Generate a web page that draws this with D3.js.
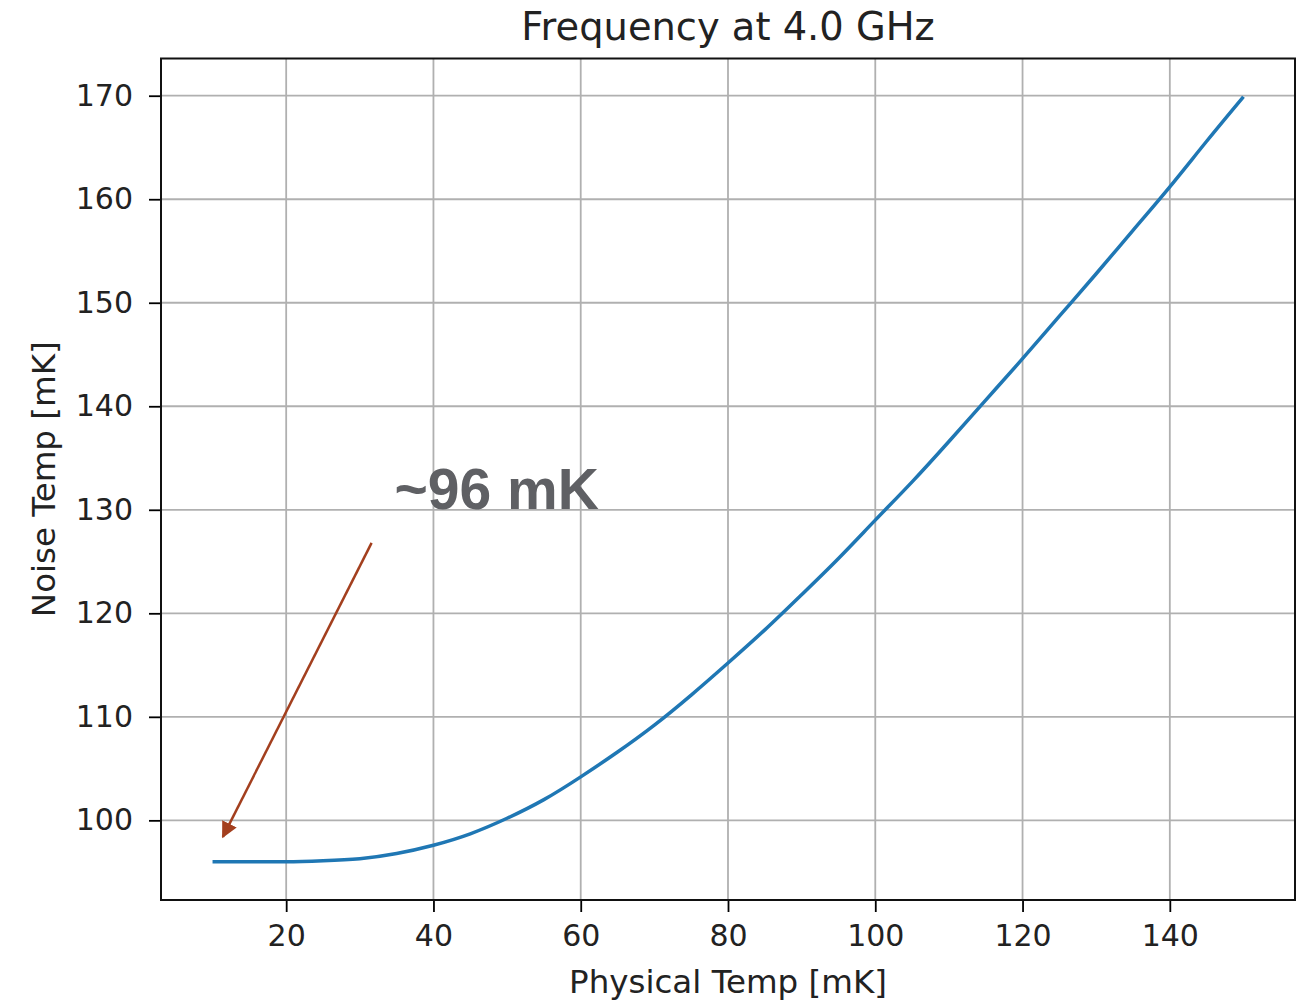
<!DOCTYPE html>
<html>
<head>
<meta charset="utf-8">
<script src="https://cdn.jsdelivr.net/npm/d3@7"></script>
<style>
  body { margin: 0; background: #fff; }
  svg { display: block; }
</style>
</head>
<body>
<svg id="chart" width="1307" height="1001"></svg>
<script>
// データ
const physicalTemp = [10, 15, 20, 25, 30, 35, 40, 45, 50, 55, 60, 65, 70, 75, 80,
  85, 90, 95, 100, 105, 110, 115, 120, 125, 130, 135, 140, 145, 150];
const noiseTemp = [96.0, 96.0, 96.0, 96.1, 96.3, 96.8, 97.6, 98.7, 100.2, 102.0, 104.2, 106.6, 109.2, 112.1, 115.2,
  118.4, 121.8, 125.3, 129.0, 132.7, 136.6, 140.6, 144.6, 148.7, 152.8, 157.0, 161.2, 165.6, 169.9];
const xTicks = [20, 40, 60, 80, 100, 120, 140];
const yTicks = [100, 110, 120, 130, 140, 150, 160, 170];

const titleText = 'Frequency at 4.0 GHz';
const xLabelText = 'Physical Temp [mK]';
const yLabelText = 'Noise Temp [mK]';

// 注釈（データ座標）
const noteText = '~96 mK';
const notePos = [34.7, 130.1];
const arrowFrom = [31.6, 126.8];
const arrowTo = [11.4, 98.4];

const svg = d3.select('#chart');
const plot = { left: 161, right: 1295, top: 58.5, bottom: 900 };

// matplotlib風 5% マージン
function padded(values) {
    const [lo, hi] = d3.extent(values);
    const m = (hi - lo) * 0.05;
    return [lo - m, hi + m];
}

const xScale = d3.scaleLinear().domain(padded(physicalTemp)).range([plot.left, plot.right]);
const yScale = d3.scaleLinear().domain(padded(noiseTemp)).range([plot.bottom, plot.top]);

const font = "'DejaVu Sans', sans-serif";

// グリッド
svg.append('g')
    .attr('class', 'grid')
    .selectAll('line.vx')
    .data(xTicks)
    .enter().append('line')
    .attr('x1', d => xScale(d)).attr('x2', d => xScale(d))
    .attr('y1', plot.top).attr('y2', plot.bottom)
    .attr('stroke', '#b0b0b0').attr('stroke-width', 1.8);

svg.append('g')
    .attr('class', 'grid')
    .selectAll('line.hy')
    .data(yTicks)
    .enter().append('line')
    .attr('x1', plot.left).attr('x2', plot.right)
    .attr('y1', d => yScale(d)).attr('y2', d => yScale(d))
    .attr('stroke', '#b0b0b0').attr('stroke-width', 1.8);

// 曲線
const line = d3.line()
    .x((d, i) => xScale(physicalTemp[i]))
    .y(d => yScale(d))
    .curve(d3.curveNatural);

svg.append('path')
    .datum(noiseTemp)
    .attr('fill', 'none')
    .attr('stroke', '#1f77b4')
    .attr('stroke-width', 3.5)
    .attr('d', line);

// 軸
const xAxis = d3.axisBottom(xScale).tickValues(xTicks).tickSize(12).tickPadding(13);
const yAxis = d3.axisLeft(yScale).tickValues(yTicks).tickSize(12).tickPadding(16);

const gx = svg.append('g')
    .attr('transform', `translate(0, ${plot.bottom})`)
    .call(xAxis);
const gy = svg.append('g')
    .attr('transform', `translate(${plot.left}, 0)`)
    .call(yAxis);

[gx, gy].forEach(g => {
    g.select('.domain').remove();
    g.selectAll('.tick line').attr('stroke', '#000').attr('stroke-width', 1.8);
    g.selectAll('.tick text')
        .attr('fill', '#222')
        .style('font-family', font)
        .style('font-size', '30px');
});

// 枠
svg.append('rect')
    .attr('x', plot.left).attr('y', plot.top)
    .attr('width', plot.right - plot.left)
    .attr('height', plot.bottom - plot.top)
    .attr('fill', 'none')
    .attr('stroke', '#111')
    .attr('stroke-width', 2);

// タイトル・軸ラベル
svg.append('text')
    .attr('x', (plot.left + plot.right) / 2)
    .attr('y', 40)
    .attr('text-anchor', 'middle')
    .style('font-family', font)
    .style('font-size', '38.4px')
    .attr('fill', '#222')
    .text(titleText);

svg.append('text')
    .attr('x', (plot.left + plot.right) / 2)
    .attr('y', 993)
    .attr('text-anchor', 'middle')
    .style('font-family', font)
    .style('font-size', '32.5px')
    .attr('fill', '#222')
    .text(xLabelText);

svg.append('text')
    .attr('transform', `translate(55, ${(plot.top + plot.bottom) / 2}) rotate(-90)`)
    .attr('text-anchor', 'middle')
    .style('font-family', font)
    .style('font-size', '32.5px')
    .attr('fill', '#222')
    .text(yLabelText);

// 注釈テキスト
svg.append('text')
    .attr('x', xScale(notePos[0]))
    .attr('y', yScale(notePos[1]))
    .style('font-family', "'Liberation Sans', Arial, sans-serif")
    .style('font-size', '57px')
    .style('font-weight', 'bold')
    .attr('fill', '#5f6064')
    .text(noteText);

// 矢印
svg.append('defs').append('marker')
    .attr('id', 'arrowhead')
    .attr('viewBox', '0 0 10 10')
    .attr('refX', 9).attr('refY', 5)
    .attr('markerWidth', 6.5).attr('markerHeight', 6.5)
    .attr('markerUnits', 'strokeWidth')
    .attr('orient', 'auto')
    .append('path')
    .attr('d', 'M0,0 L10,5 L0,10 z')
    .attr('fill', '#a33f1e');

svg.append('line')
    .attr('x1', xScale(arrowFrom[0])).attr('y1', yScale(arrowFrom[1]))
    .attr('x2', xScale(arrowTo[0])).attr('y2', yScale(arrowTo[1]))
    .attr('stroke', '#a33f1e')
    .attr('stroke-width', 2.5)
    .attr('marker-end', 'url(#arrowhead)');
</script>
</body>
</html>
